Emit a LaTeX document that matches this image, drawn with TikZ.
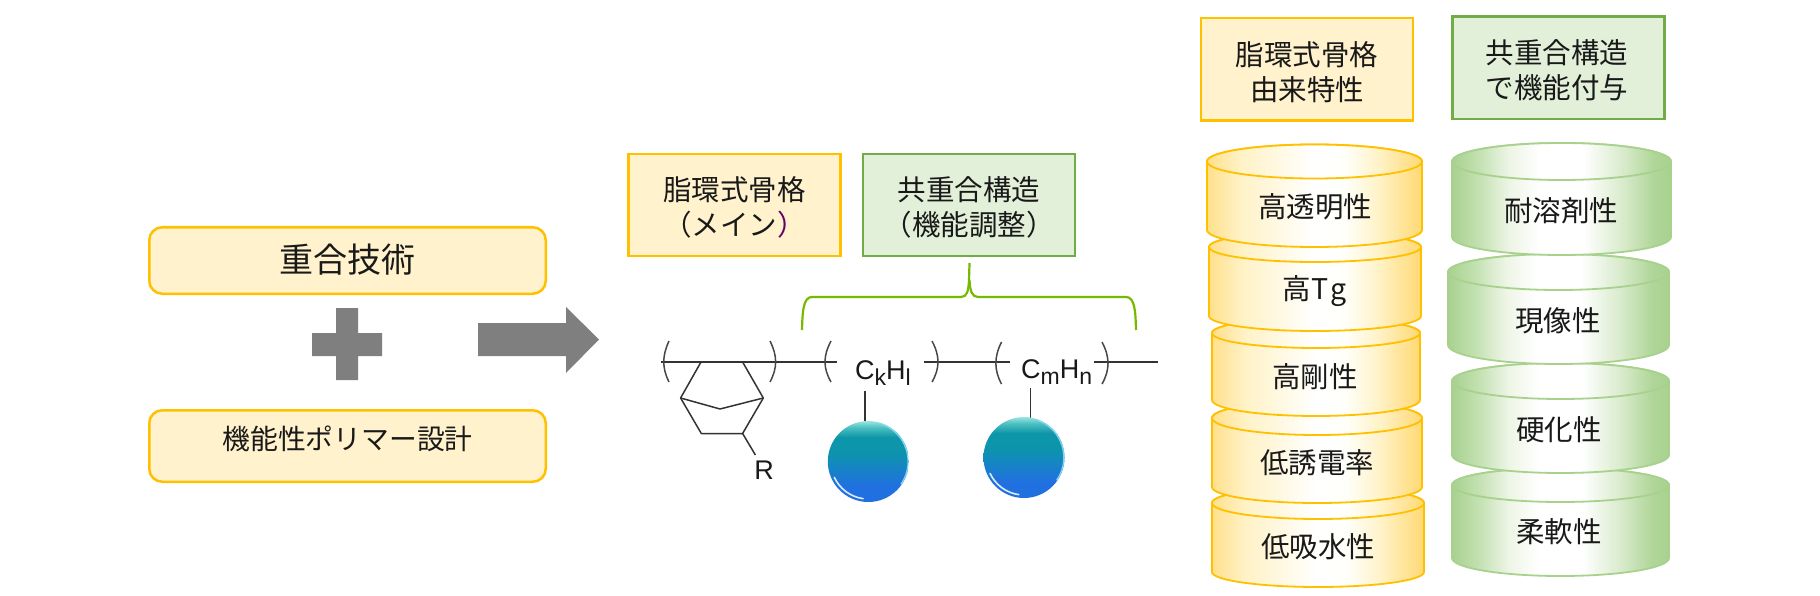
\documentclass[tikz,border=0pt]{standalone}
\usepackage{fontspec}
\setmainfont{Noto Sans CJK JP}
\newfontfamily\latinf{Liberation Sans}
\definecolor{yedge}{HTML}{FFC000}
\definecolor{yfill}{HTML}{FFF2CC}
\definecolor{gedge}{HTML}{70AD47}
\definecolor{gfill}{HTML}{E2F0D9}
\definecolor{cgedge}{HTML}{A9D18E}
\definecolor{bracegreen}{HTML}{76B900}
\definecolor{arrowgray}{HTML}{7F7F7F}
\definecolor{bond}{HTML}{333333}
\pgfdeclarehorizontalshading{ycyl}{100bp}{rgb(0bp)=(1,0.88,0.55);rgb(25bp)=(1,0.88,0.55);rgb(33bp)=(1,0.95,0.78);rgb(50bp)=(1,1,1);rgb(57bp)=(1,1,0.98);rgb(65bp)=(1,0.95,0.78);rgb(75bp)=(1,0.85,0.45);rgb(100bp)=(1,0.85,0.45)}
\pgfdeclarehorizontalshading{gcyl}{100bp}{rgb(0bp)=(0.66,0.82,0.56);rgb(25bp)=(0.66,0.82,0.56);rgb(31bp)=(0.76,0.88,0.69);rgb(38bp)=(0.93,0.96,0.9);rgb(45bp)=(1,1,1);rgb(55bp)=(1,1,1);rgb(64bp)=(0.85,0.92,0.8);rgb(71bp)=(0.69,0.84,0.6);rgb(75bp)=(0.66,0.82,0.56);rgb(100bp)=(0.66,0.82,0.56)}
\pgfdeclareverticalshading{ballshade}{100bp}{rgb(0bp)=(0.13,0.44,0.88);rgb(25bp)=(0.13,0.44,0.88);rgb(35bp)=(0.13,0.44,0.88);rgb(55bp)=(0.05,0.58,0.68);rgb(65bp)=(0.05,0.59,0.66);rgb(71bp)=(0.30,0.75,0.76);rgb(75bp)=(0.60,0.90,0.88);rgb(100bp)=(0.60,0.90,0.88)}
\tikzset{
  txt/.style={inner sep=0pt,font=\fontsize{28.5pt}{35pt}\selectfont,align=center,text=black!90},
  roundbox/.style={draw=yedge,fill=yfill,line width=2.5pt,rounded corners=13pt,minimum width=396.5pt,inner sep=0pt,align=center,text=black!90},
  ybox/.style={draw=yedge,fill=yfill,line width=2.2pt,minimum width=212pt,minimum height=102.5pt,inner sep=0pt,font=\fontsize{28.5pt}{34.5pt}\selectfont,text=black!90},
  gbox/.style={draw=gedge,fill=gfill,line width=2.2pt,minimum width=212pt,minimum height=102.5pt,inner sep=0pt,font=\fontsize{28.5pt}{34.5pt}\selectfont,text=black!90},
  bondline/.style={draw=bond,line width=1.5pt},
  parenline/.style={draw=bond!90,line width=1.5pt},
  chem/.style={inner sep=0pt,font=\latinf\fontsize{27pt}{27pt}\selectfont,text=black!90},
  ycylstyle/.style={draw=yedge,line width=1.8pt,shading=ycyl},
  gcylstyle/.style={draw=cgedge,line width=1.8pt,shading=gcyl}
}
\newcommand{\twolines}[3]{\raisebox{#1}[0pt][0pt]{\begin{tabular}[b]{@{}c@{}}#2\\#3\end{tabular}}}
\newcommand{\onelineat}[2]{\raisebox{#1}[0pt][0pt]{#2}}
% #1 style, #2 xl, #3 xr, #4 ellipse centre y, #5 ry, #6 side end y, #7 bottom ry
\newcommand{\mycyl}[7]{%
  \pgfmathsetmacro{\cxx}{(#2+#3)/2}\pgfmathsetmacro{\rxx}{(#3-#2)/2}%
  \path[#1] (#2,#4) -- (#2,#6) arc[start angle=180,end angle=360,x radius=\rxx pt,y radius=#7 pt] -- (#3,#4) arc[start angle=0,end angle=180,x radius=\rxx pt,y radius=#5 pt] -- cycle;
  \path[#1] (\cxx,#4) ellipse[x radius=\rxx pt,y radius=#5 pt];
}
\newcommand{\myball}[3]{%
  \shade[shading=ballshade] (#1,#2) circle[radius=#3 pt];
  \draw[white,line width=1.6pt,opacity=.85,line cap=round] (#1,#2) ++(205:#3 pt-3pt) arc[start angle=205,end angle=262,radius=#3 pt-3pt];
  \draw[cyan!45,line width=1.3pt,opacity=.9] (#1,#2) ++(-35:#3 pt-.7pt) arc[start angle=-35,end angle=70,radius=#3 pt-.7pt];
}
\begin{document}
\begin{tikzpicture}[x=1pt,y=-1pt]
\useasboundingbox (0,0) rectangle (1820,596);
% left boxes
\node[roundbox,minimum height=66.5pt,font=\fontsize{34pt}{38pt}\selectfont] (tech) at (347.5,260.5) {\onelineat{-11.5pt}{重合技術}};
\node[roundbox,minimum height=71.5pt,font=\fontsize{27.8pt}{34pt}\selectfont] (design) at (347.5,446) {\onelineat{-3pt}{機能性ポリマー設計}};
% plus
\fill[arrowgray] (336,308) -- (358,308) -- (358,333) -- (382,333) -- (382,356) -- (358,356) -- (358,380) -- (336,380) -- (336,356) -- (312,356) -- (312,333) -- (336,333) -- cycle;
% block arrow
\fill[arrowgray] (478,323) -- (566,323) -- (566,307) -- (599,339.5) -- (566,373) -- (566,356) -- (478,356) -- cycle;
% label boxes
\node[ybox] (main) at (734.5,205) {\twolines{-30.3pt}{脂環式骨格}{（メイン\textcolor{violet!80!black}{）}}};
\node[gbox] (copo) at (969,205) {\twolines{-30.3pt}{共重合構造}{（機能調整）}};
\node[ybox] (alic) at (1307,69.2) {\twolines{-31.3pt}{脂環式骨格}{由来特性}};
\node[gbox] (func) at (1558.4,67.8) {\kern-2.8pt\twolines{-30.4pt}{共重合構造}{で機能付与}};
% brace
\coordinate (bl) at (802,330);
\coordinate (br) at (1136,330);
\coordinate (bt) at (969.5,263);
\draw[bracegreen,line width=2.2pt] (bl) .. controls (802.5,312) and (803,297) .. (812,297) -- (961,297) .. controls (967,297) and (968.5,291) .. (969,280) -- (bt);
\draw[bracegreen,line width=2.2pt] (969.5,280) .. controls (970,291) and (972,297) .. (978,297) -- (1126,297) .. controls (1135,297) and (1135.5,312) .. (br);
% polymer chain
\coordinate (c1) at (660.7,362);\coordinate (c2) at (837,362);
\coordinate (c3) at (924,362);\coordinate (c4) at (1009.5,362);
\coordinate (c5) at (1094,362);\coordinate (c6) at (1158,362);
\draw[bondline] (c1) -- (c2);
\draw[bondline] (c3) -- (c4);
\draw[bondline] (c5) -- (c6);
% parentheses
\draw[parenline] (669,341) .. controls (662,356) and (662,368) .. (669,382);
\draw[parenline] (770,341) .. controls (777.5,356) and (777.5,368) .. (770,382);
\draw[parenline] (831,341) .. controls (823,356) and (823,368) .. (831,382);
\draw[parenline] (932,341) .. controls (940,356) and (940,368) .. (932,382);
\draw[parenline] (1001.5,342) .. controls (994,357) and (994,370) .. (1001.5,384);
\draw[parenline] (1102,342) .. controls (1110,357) and (1110,370) .. (1102,384);
% ring
\coordinate (r1) at (701,362);\coordinate (r2) at (680.6,398);\coordinate (r3) at (701.3,433.5);
\coordinate (r4) at (742.6,433.5);\coordinate (r5) at (763.3,398);\coordinate (r6) at (742.6,362);\coordinate (r7) at (720,409);
\draw[bondline,line join=round] (r1) -- (r2) -- (r3) -- (r4) -- (r5) -- (r6);
\draw[bondline,line join=round] (r2) -- (r7) -- (r5);
\node[chem] (rlabel) at (764,470) {R};
\draw[bondline] (r4) -- (755.4,455);
% side groups
\node[chem] (ck) at (883,373) {C\raisebox{-6pt}{\fontsize{23pt}{23pt}\selectfont k}H\raisebox{-6pt}{\fontsize{23pt}{23pt}\selectfont l}};
\node[chem] (cm) at (1056.7,372) {C\raisebox{-6pt}{\fontsize{23pt}{23pt}\selectfont m}H\raisebox{-6pt}{\fontsize{23pt}{23pt}\selectfont n}};
\coordinate (b1top) at (865.2,421);\coordinate (b2top) at (1030.5,418);
\draw[bondline] (b1top) -- (865.2,391);
\draw[bondline] (b2top) -- (1030.5,388);
\myball{868.3}{461.5}{40.5}
\myball{1024}{457.5}{40.5}
% yellow stack (lowest first)
\mycyl{ycylstyle}{1212}{1424}{503}{16}{572}{15}
\mycyl{ycylstyle}{1212}{1422}{418}{17}{487}{16}
\mycyl{ycylstyle}{1212}{1420}{333}{15}{400}{16}
\mycyl{ycylstyle}{1209}{1421}{247}{15}{316}{15}
\mycyl{ycylstyle}{1207}{1422}{161.5}{17}{230}{17}
\node[txt] (y1) at (1315,207) {高透明性};
\node[txt] (y2) at (1315,291) {高T\hspace{2.5pt}g};
\node[txt] (y3) at (1315,377) {高剛性};
\node[txt] (y4) at (1317,463) {低誘電率};
\node[txt] (y5) at (1318,547) {低吸水性};
% green stack
\mycyl{gcylstyle}{1452}{1669}{485}{17}{558}{18}
\mycyl{gcylstyle}{1452}{1669}{381}{18}{455}{18}
\mycyl{gcylstyle}{1448}{1669}{272}{18}{345}{19}
\mycyl{gcylstyle}{1452}{1671}{161.5}{18.5}{237}{18}
\node[txt] (g1) at (1561,211) {耐溶剤性};
\node[txt] (g2) at (1558,321) {現像性};
\node[txt] (g3) at (1559,430) {硬化性};
\node[txt] (g4) at (1559,532) {柔軟性};
\end{tikzpicture}
\end{document}
